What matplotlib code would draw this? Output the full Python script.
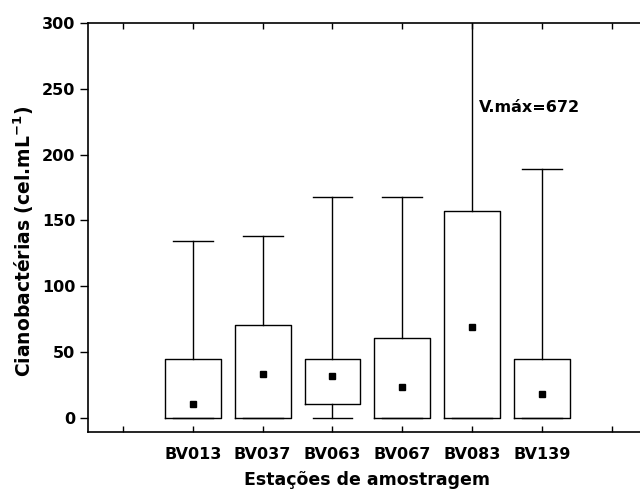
import matplotlib
matplotlib.use("Agg")
import matplotlib.pyplot as plt

stations = ['BV013', 'BV037', 'BV063', 'BV067', 'BV083', 'BV139']
medians = [11, 33.5, 32, 24, 69.5, 18.5]
q1 = [0, 0, 11, 0, 0, 0]
q3 = [45, 70.5, 45, 61, 157, 45]
wmin = [0, 0, 0, 0, 0, 0]
wmax = [134.5, 138.5, 168, 168, 672, 189]

plt.rcParams['font.family'] = ['DejaVu Sans']
plt.rcParams['font.weight'] = 'bold'
plt.rcParams['mathtext.default'] = 'bf'

fig = plt.figure(figsize=(6.4, 4.9), dpi=100)
ax = fig.add_axes([0.1375, 0.1184, 0.873, 0.835])

stats = []
for i in range(len(stations)):
    stats.append({'med': medians[i], 'q1': q1[i], 'q3': q3[i],
                  'whislo': wmin[i], 'whishi': wmax[i], 'fliers': []})

pos = list(range(1, len(stations) + 1))
ax.bxp(stats, positions=pos, widths=0.8, patch_artist=False,
       boxprops=dict(color='black', linewidth=1),
       whiskerprops=dict(color='black', linewidth=1),
       capprops=dict(color='black', linewidth=1),
       medianprops=dict(linewidth=0), capwidths=0.57, manage_ticks=False)
ax.plot(pos, medians, 's', color='black', markersize=5, linestyle='none')

ax.text(5.1, 236, 'V.máx=672', fontsize=11.5, fontweight='bold', va='center', ha='left')

ax.set_xlim(-0.5, 7.5)
ax.set_ylim(-10.5, 300)
ax.set_xticks(range(0, 8))
ax.set_xticklabels([''] + stations + [''])
ax.set_yticks(range(0, 301, 50))
ax.tick_params(axis='x', direction='in', top=True, length=4, width=1, labelsize=11.5, pad=11)
ax.tick_params(axis='y', direction='out', length=6, width=1, labelsize=11.5, pad=3)
ax.spines['right'].set_visible(False)
for s in ['left', 'top', 'bottom']:
    ax.spines[s].set_linewidth(1.2)

ax.set_xlabel('Estações de amostragem', fontsize=12.5, fontweight='bold', labelpad=6)
ax.set_ylabel('Cianobactérias (cel.mL$^{-1}$)', fontsize=13.5, fontweight='bold')
ax.yaxis.set_label_coords(-0.093, 0.467)

fig.savefig('out.png', dpi=100)
